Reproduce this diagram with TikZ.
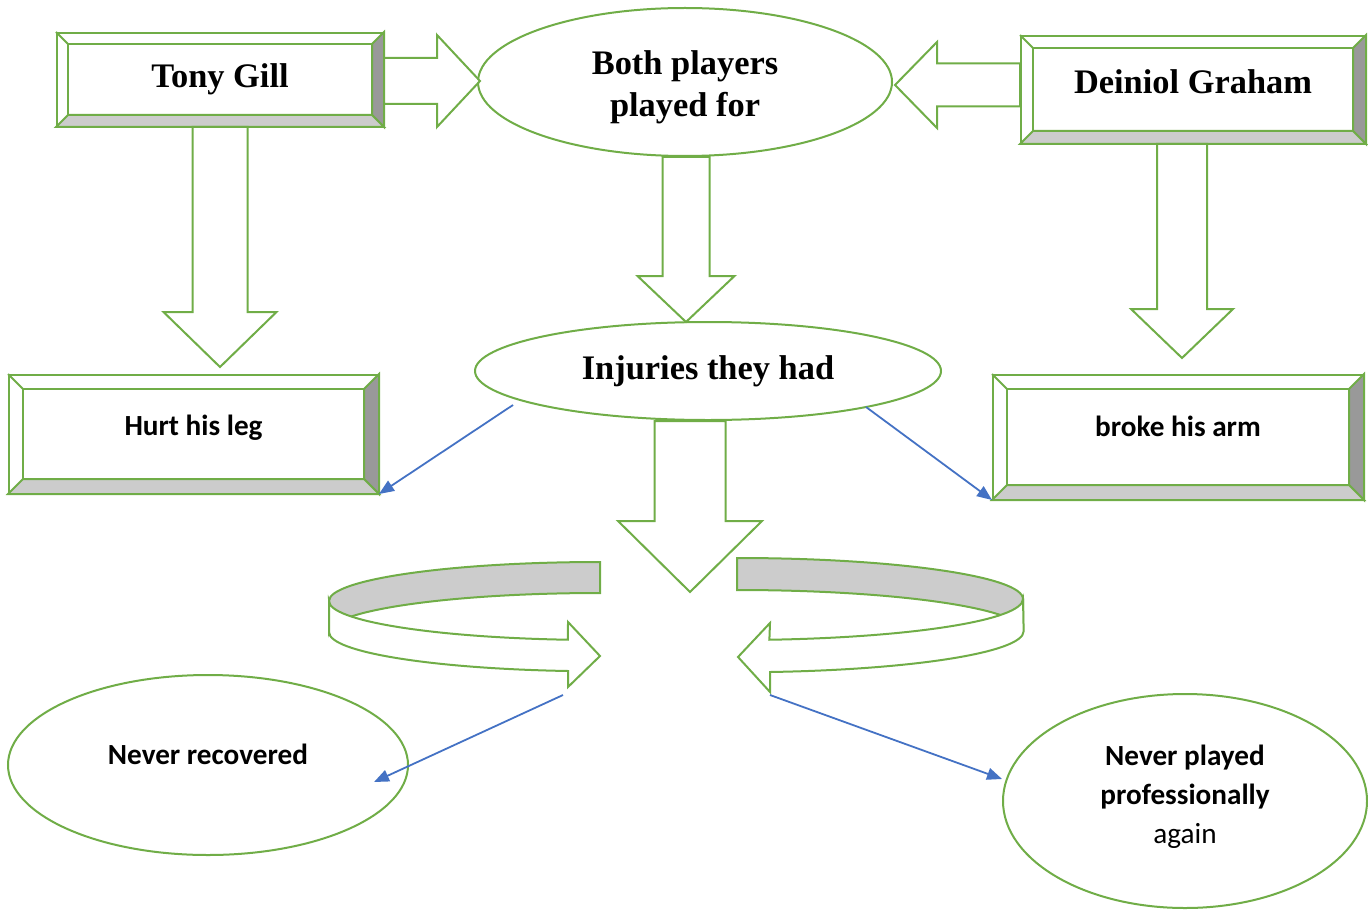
\documentclass[tikz,border=0pt]{standalone}
\usepackage{fontspec}
\usepackage{tikz}
\usetikzlibrary{shapes,arrows,arrows.meta,positioning,calc}
\newfontfamily\timesfont{Liberation Serif}
\newfontfamily\calfont{Carlito}
\definecolor{boxgreen}{HTML}{70AD47}
\definecolor{linkblue}{HTML}{4472C4}
\tikzstyle{bevelbox} = [draw=boxgreen, line width=1pt, fill=white, inner sep=0pt, shape=rectangle]
\tikzstyle{oval} = [draw=boxgreen, line width=1pt, fill=white, inner sep=0pt, shape=ellipse]
\tikzstyle{bigtext} = [font=\timesfont\bfseries\fontsize{17.2}{21}\selectfont]
\tikzstyle{smalltext} = [font=\calfont\bfseries\fontsize{14.6}{19.5}\selectfont]
\tikzstyle{blockarrow} = [draw=boxgreen, line width=1pt, fill=white]
\tikzstyle{ring} = [draw=boxgreen, line width=1pt]
\tikzstyle{link} = [draw=linkblue, line width=0.9pt, -{Triangle[length=7.5pt,width=6pt]}]

% #1 node, #2 bevel size
\newcommand{\bevel}[2]{%
  \filldraw[ring, fill=black!40] (#1.north east) -- (#1.south east) -- ($(#1.south east)+(-#2,-#2)$) -- ($(#1.north east)+(-#2,#2)$) -- cycle;
  \filldraw[ring, fill=black!20] (#1.south west) -- (#1.south east) -- ($(#1.south east)+(-#2,-#2)$) -- ($(#1.south west)+(#2,-#2)$) -- cycle;
  \draw[ring] ($(#1.north west)+(#2,#2)$) rectangle ($(#1.south east)+(-#2,-#2)$);
  \draw[ring] (#1.north west) -- ++(#2,#2);
}
% #1 from, #2 tip, #3 half shaft, #4 half head, #5 head length
\newcommand{\arrowdown}[5]{%
  \draw[blockarrow] (#2) -- ++(-#4,-#5) -- ++(#4-#3,0) -- ($(#2 |- #1)+(-#3,0)$) -- ($(#2 |- #1)+(#3,0)$) -- ($(#2)+(#3,-#5)$) -- ++(#4-#3,0) -- cycle;
}
\newcommand{\arrowright}[5]{%
  \draw[blockarrow] (#2) -- ++(-#5,-#4) -- ++(0,#4-#3) -- ($(#1 |- #2)+(0,-#3)$) -- ($(#1 |- #2)+(0,#3)$) -- ($(#2)+(-#5,#3)$) -- ++(0,#4-#3) -- cycle;
}
\newcommand{\arrowleft}[5]{%
  \draw[blockarrow] (#2) -- ++(#5,-#4) -- ++(0,#4-#3) -- ($(#1 |- #2)+(0,-#3)$) -- ($(#1 |- #2)+(0,#3)$) -- ($(#2)+(#5,#3)$) -- ++(0,#4-#3) -- cycle;
}

\begin{document}
\begin{tikzpicture}[x=0.5pt, y=-0.5pt]
  \useasboundingbox (0,0) rectangle (1368,909);

  \node[bevelbox, bigtext, minimum width=163pt, minimum height=46.5pt] (tony) at (220,79.5) {Tony Gill};
  \node[oval, bigtext, minimum width=207pt, minimum height=74pt] (both) at (685,82) {\raisebox{-6.8pt}[0pt][0pt]{\begin{tabular}{@{}c@{}}Both players\\played for\end{tabular}}};
  \node[bevelbox, bigtext, minimum width=172pt, minimum height=53.5pt] (deiniol) at (1193,89.5) {\raisebox{8pt}{Deiniol Graham}};
  \node[oval, bigtext, minimum width=233pt, minimum height=49pt] (injuries) at (708,371) {Injuries they had};
  \node[bevelbox, smalltext, minimum width=184.5pt, minimum height=59pt] (hurt) at (193.5,434) {\raisebox{9pt}{Hurt his leg}};
  \node[bevelbox, smalltext, minimum width=185pt, minimum height=62pt] (broke) at (1178,437) {\raisebox{11pt}{broke his arm}};
  \node[oval, smalltext, minimum width=200pt, minimum height=90pt] (recovered) at (208,765) {\raisebox{11pt}{Never recovered}};
  \node[oval, smalltext, minimum width=182pt, minimum height=107pt] (again) at (1185,801) {\raisebox{-1.6pt}[0pt][0pt]{\begin{tabular}{@{}c@{}}Never played\\professionally\\{\mdseries again}\end{tabular}}};

  \bevel{tony}{12}
  \bevel{deiniol}{13}
  \bevel{hurt}{15}
  \bevel{broke}{15}

  \coordinate (bothleft) at (480,81);
  \coordinate (bothright) at (895,85);
  \coordinate (injtop) at (686,322);
  \coordinate (hurttop) at (220,367);
  \coordinate (broketop) at (1182,358);
  \coordinate (ringtip) at (690,592);

  \arrowright{tony.east}{bothleft}{23}{46}{43}
  \arrowleft{deiniol.west}{bothright}{21.5}{43}{42}
  \arrowdown{both.south}{injtop}{23.5}{48.5}{46}
  \arrowdown{tony.south}{hurttop}{27.5}{56.5}{55}
  \arrowdown{deiniol.south}{broketop}{25}{51}{49}
  \arrowdown{injuries.south}{ringtip}{35.5}{72}{71}

  \filldraw[ring, fill=black!20] (600,562) arc[start angle=270, end angle=180, x radius=271, y radius=39] -- ++(0,31) arc[start angle=180, end angle=270, x radius=271, y radius=39] -- cycle;
  \filldraw[ring, fill=white] (329,601) arc[start angle=180, end angle=96.8, x radius=271, y radius=39] -- (568,622) -- (600,656) -- (568,687) -- (568,671) arc[start angle=96.8, end angle=180, x radius=271, y radius=39] -- cycle;

  \filldraw[ring, fill=black!20] (737,558) arc[start angle=270, end angle=360, x radius=286, y radius=41] -- ++(0,32) arc[start angle=360, end angle=270, x radius=286, y radius=41] -- cycle;
  \filldraw[ring, fill=white] (1023,599) arc[start angle=0, end angle=83.5, x radius=286, y radius=41] -- (770,623) -- (738,657) -- (770,692) -- (770,672) arc[start angle=83.5, end angle=0, x radius=286, y radius=41] -- cycle;

  \coordinate (injleft) at (513,405);
  \coordinate (injright) at (866,407);
  \coordinate (ringleft) at (563,695);
  \coordinate (ringright) at (770,695);
  \coordinate (recoveredin) at (374,782);
  \coordinate (againin) at (1002,779);

  \draw[link] (injleft) -- (hurt.south east);
  \draw[link] (injright) -- (broke.south west);
  \draw[link] (ringleft) -- (recoveredin);
  \draw[link] (ringright) -- (againin);
\end{tikzpicture}
\end{document}
